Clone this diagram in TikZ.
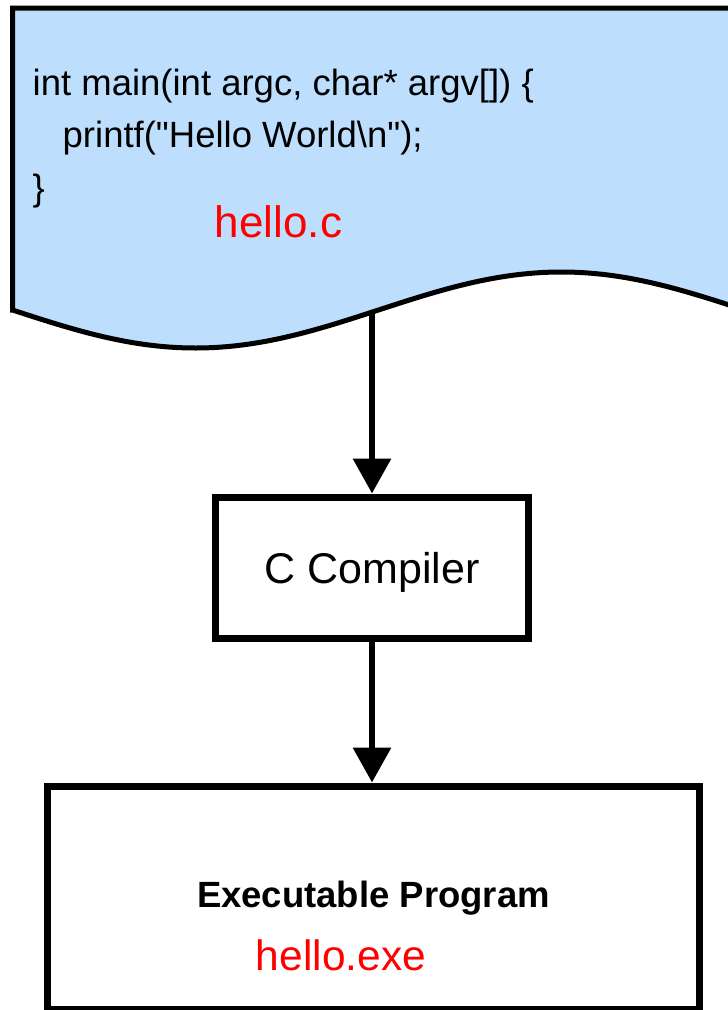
\documentclass[tikz,border=0pt]{standalone}
\usepackage{graphicx}
\usepackage{fontspec}
\setmainfont{Liberation Sans}
\usetikzlibrary{arrows.meta}

\definecolor{sheetblue}{RGB}{189,223,253}
\definecolor{labelred}{RGB}{255,0,0}

\begin{document}
\begin{tikzpicture}[x=1pt, y=-1pt,
  sheet/.style={draw=black, line width=5pt, fill=sheetblue, line join=miter},
  stepbox/.style={draw=black, line width=7pt, fill=white, inner sep=0pt},
  flow/.style={draw=black, line width=6.5pt, -{Triangle[length=35pt, width=37pt]}},
  codeline/.style={anchor=base west, inner sep=0pt, font=\fontsize{36.5}{42}\selectfont},
  filename/.style={text=labelred, inner sep=0pt, anchor=base}]

  % page frame
  \useasboundingbox (0,0) rectangle (728,1010);
  \clip (0,0) rectangle (728,1010);

  % source file: document sheet with a wavy lower edge
  % (sine wave, half period 366, amplitude 38; 180/366 = 0.4918)
  \path[sheet] (12.5,310) -- (12.5,8) -- (760,8)
    -- plot[domain=760:12.5, samples=160] (\x,{310+38*sin(0.4918*(\x-12.5))})
    -- cycle;
  \coordinate (srcfoot) at (372,312);

  % source code listing
  \node[codeline] (code1) at (32.5,95)    {int main(int argc, char* argv[]) \{};
  \node[codeline] (code2) at (62.5,147)   {printf(\textquotedbl Hello World\textbackslash n\textquotedbl);};
  \node[codeline] (code3) at (32.5,200)   {\}};
  \node[filename, font=\fontsize{44}{50}\selectfont] (srcname) at (278.5,237) {hello.c};

  % compiler stage
  \node[stepbox, minimum width=313pt, minimum height=141pt,
        font=\fontsize{43}{50}\selectfont, text height=31pt, text depth=0pt]
        (cc) at (372,567.5) {C Compiler};

  % resulting program
  \node[stepbox, minimum width=652pt, minimum height=223pt,
        font=\fontsize{36.5}{42}\selectfont\bfseries, text height=26pt, text depth=6pt]
        (exe) at (373.5,897.5) {Executable Program};
  \node[filename, font=\fontsize{42.5}{48}\selectfont] (exename) at (341,970) {hello.exe};

  % flow arrows
  \draw[flow] (srcfoot) -- (cc.north);
  \draw[flow] (cc.south) -- (exe.north -| cc.south);
\end{tikzpicture}
\end{document}
